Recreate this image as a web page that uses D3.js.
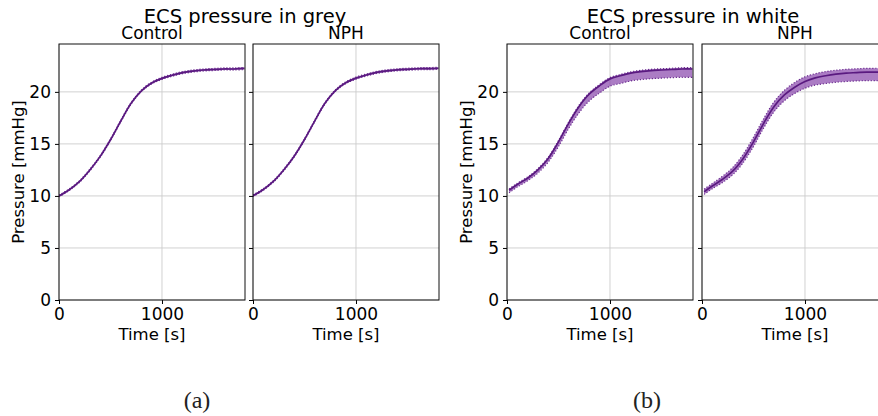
<!DOCTYPE html>
<html>
<head>
<meta charset="utf-8">
<script src="https://cdn.jsdelivr.net/npm/d3@7"></script>
<style>
  body { margin: 0; background: #fff; }
  svg { display: block; font-family: "DejaVu Sans", sans-serif; }
</style>
</head>
<body>
<div id="chart"></div>
<script>
// time points [s]
const timeA = [0, 100, 200, 300, 400, 500, 600, 700, 800, 900, 1000, 1100, 1200, 1300, 1400, 1500, 1600, 1700, 1800];
const timeB = [20, 100, 200, 300, 400, 500, 600, 700, 800, 900, 1000, 1100, 1200, 1300, 1400, 1500, 1600, 1700, 1800];

// (a) grey, Control
const greyCtrlMean = [10.0, 10.6, 11.4, 12.5, 13.8, 15.4, 17.2, 18.9, 20.1, 20.85, 21.3, 21.6, 21.85, 22.0, 22.1, 22.15, 22.2, 22.2, 22.25];
const greyCtrlLow  = [9.92, 10.52, 11.32, 12.42, 13.72, 15.32, 17.12, 18.82, 20.02, 20.76, 21.2, 21.5, 21.75, 21.9, 22.0, 22.05, 22.1, 22.1, 22.14];
const greyCtrlHigh = [10.08, 10.68, 11.48, 12.58, 13.88, 15.48, 17.28, 18.98, 20.18, 20.94, 21.4, 21.7, 21.95, 22.1, 22.2, 22.25, 22.3, 22.3, 22.34];

// (a) grey, NPH
const greyNphMean = [10.02, 10.62, 11.42, 12.52, 13.82, 15.42, 17.22, 18.92, 20.12, 20.87, 21.32, 21.62, 21.87, 22.02, 22.12, 22.17, 22.22, 22.23, 22.27];
const greyNphLow  = [9.94, 10.54, 11.34, 12.44, 13.74, 15.34, 17.14, 18.84, 20.04, 20.78, 21.22, 21.52, 21.77, 21.92, 22.02, 22.07, 22.12, 22.13, 22.16];
const greyNphHigh = [10.1, 10.7, 11.5, 12.6, 13.9, 15.5, 17.3, 19.0, 20.2, 20.96, 21.42, 21.72, 21.97, 22.12, 22.22, 22.27, 22.32, 22.33, 22.37];

// (b) white, Control
const whiteCtrlMean = [10.55, 11.1, 11.7, 12.5, 13.6, 15.2, 17.0, 18.6, 19.8, 20.6, 21.25, 21.55, 21.8, 21.95, 22.05, 22.1, 22.15, 22.2, 22.2];
const whiteCtrlLow  = [10.3, 10.85, 11.45, 12.2, 13.25, 14.75, 16.5, 18.0, 19.15, 19.9, 20.55, 20.8, 21.05, 21.18, 21.27, 21.32, 21.37, 21.4, 21.4];
const whiteCtrlHigh = [10.67, 11.22, 11.82, 12.62, 13.72, 15.32, 17.12, 18.72, 19.92, 20.72, 21.37, 21.67, 21.92, 22.07, 22.17, 22.22, 22.27, 22.32, 22.32];

// (b) white, NPH
const whiteNphMean = [10.4, 10.95, 11.6, 12.4, 13.6, 15.2, 17.0, 18.6, 19.7, 20.45, 21.0, 21.35, 21.55, 21.7, 21.8, 21.85, 21.9, 21.9, 21.95];
const whiteNphLow  = [10.15, 10.7, 11.3, 12.05, 13.2, 14.75, 16.55, 18.1, 19.15, 19.85, 20.35, 20.65, 20.8, 20.92, 21.0, 21.05, 21.08, 21.08, 21.1];
const whiteNphHigh = [10.65, 11.2, 11.9, 12.75, 14.0, 15.65, 17.45, 19.05, 20.15, 20.9, 21.45, 21.75, 21.95, 22.08, 22.17, 22.22, 22.26, 22.27, 22.3];

const yTicks = [0, 5, 10, 15, 20];
const xTicks = [0, 1000];

const W = 878, H = 416;
const axTop = 44, axBottom = 300, axW = 186;

const lineCol = "#5a1a80";
const bandCol = "#8a49ad";
const edgeCol = "#6b2c90";

const svg = d3.select("#chart").append("svg")
  .attr("width", W)
  .attr("height", H);

const y = d3.scaleLinear().domain([0, 24.6]).range([axBottom, axTop]);
const smooth = d3.curveCatmullRom.alpha(0.5);

function panel(left, sub, times, mean, low, high, showYLabels, ylab) {
  const x = d3.scaleLinear().domain([0, 1806]).range([left, left + axW]);
  const g = svg.append("g");

  // grid
  g.selectAll(".gy").data(yTicks).enter().append("line")
    .attr("x1", left).attr("x2", left + axW)
    .attr("y1", d => y(d)).attr("y2", d => y(d))
    .attr("stroke", "#cccccc").attr("stroke-width", 0.9);
  g.selectAll(".gx").data(xTicks).enter().append("line")
    .attr("x1", d => x(d)).attr("x2", d => x(d))
    .attr("y1", axTop).attr("y2", axBottom)
    .attr("stroke", "#cccccc").attr("stroke-width", 0.9);

  const rows = times.map((t, i) => ({t: t, m: mean[i], lo: low[i], hi: high[i]}));

  const area = d3.area().curve(smooth)
    .x(d => x(d.t)).y0(d => y(d.lo)).y1(d => y(d.hi));
  const lineM = d3.line().curve(smooth).x(d => x(d.t)).y(d => y(d.m));
  const lineLo = d3.line().curve(smooth).x(d => x(d.t)).y(d => y(d.lo));
  const lineHi = d3.line().curve(smooth).x(d => x(d.t)).y(d => y(d.hi));

  const clipId = "clip" + left;
  svg.append("clipPath").attr("id", clipId).append("rect")
    .attr("x", left).attr("y", axTop).attr("width", axW).attr("height", axBottom - axTop);
  const plot = g.append("g").attr("clip-path", `url(#${clipId})`);

  plot.append("path").datum(rows).attr("d", area)
    .attr("fill", bandCol).attr("fill-opacity", 0.72);
  plot.append("path").datum(rows).attr("d", lineLo)
    .attr("fill", "none").attr("stroke", edgeCol).attr("stroke-width", 1.2)
    .attr("stroke-dasharray", "1.2,1.8");
  plot.append("path").datum(rows).attr("d", lineHi)
    .attr("fill", "none").attr("stroke", edgeCol).attr("stroke-width", 1.2)
    .attr("stroke-dasharray", "1.2,1.8");
  plot.append("path").datum(rows).attr("d", lineM)
    .attr("fill", "none").attr("stroke", lineCol).attr("stroke-width", 1.7);

  // axes
  const xa = g.append("g").attr("transform", `translate(0,${axBottom})`)
    .call(d3.axisBottom(x).tickValues(xTicks).tickSize(4).tickPadding(4).tickSizeOuter(0)
      .tickFormat(d3.format("d")));
  const ya = g.append("g").attr("transform", `translate(${left},0)`)
    .call(d3.axisLeft(y).tickValues(yTicks).tickSize(4).tickPadding(4).tickSizeOuter(0)
      .tickFormat(showYLabels ? d3.format("d") : () => ""));
  [xa, ya].forEach(a => {
    a.select(".domain").remove();
    a.selectAll("line").attr("stroke", "#000");
    a.selectAll("text").attr("font-family", "DejaVu Sans").attr("font-size", 17).attr("fill", "#000");
  });

  // frame
  g.append("rect")
    .attr("x", left).attr("y", axTop).attr("width", axW).attr("height", axBottom - axTop)
    .attr("fill", "none").attr("stroke", "#111").attr("stroke-width", 1);

  g.append("text").attr("x", left + axW / 2).attr("y", 38.5)
    .attr("text-anchor", "middle").attr("font-size", 17).text(sub);
  g.append("text").attr("x", left + axW / 2).attr("y", 340)
    .attr("text-anchor", "middle").attr("font-size", 16.5).text("Time [s]");
  if (ylab) {
    g.append("text")
      .attr("transform", `translate(${left - 35},${(axTop + axBottom) / 2}) rotate(-90)`)
      .attr("text-anchor", "middle").attr("font-size", 16.5).text("Pressure [mmHg]");
  }
}

panel(59, "Control", timeA, greyCtrlMean, greyCtrlLow, greyCtrlHigh, true, true);
panel(253, "NPH", timeA, greyNphMean, greyNphLow, greyNphHigh, false, false);
panel(507, "Control", timeB, whiteCtrlMean, whiteCtrlLow, whiteCtrlHigh, true, true);
panel(702, "NPH", timeB, whiteNphMean, whiteNphLow, whiteNphHigh, false, false);

svg.append("text").attr("x", 245).attr("y", 22.5).attr("text-anchor", "middle")
  .attr("font-size", 19.5).text("ECS pressure in grey");
svg.append("text").attr("x", 693).attr("y", 22.5).attr("text-anchor", "middle")
  .attr("font-size", 19.5).text("ECS pressure in white");

svg.append("text").attr("x", 197).attr("y", 408).attr("text-anchor", "middle")
  .attr("font-family", "Liberation Serif, serif").attr("font-size", 24).attr("fill", "#222").text("(a)");
svg.append("text").attr("x", 647).attr("y", 408).attr("text-anchor", "middle")
  .attr("font-family", "Liberation Serif, serif").attr("font-size", 24).attr("fill", "#222").text("(b)");
</script>
</body>
</html>
